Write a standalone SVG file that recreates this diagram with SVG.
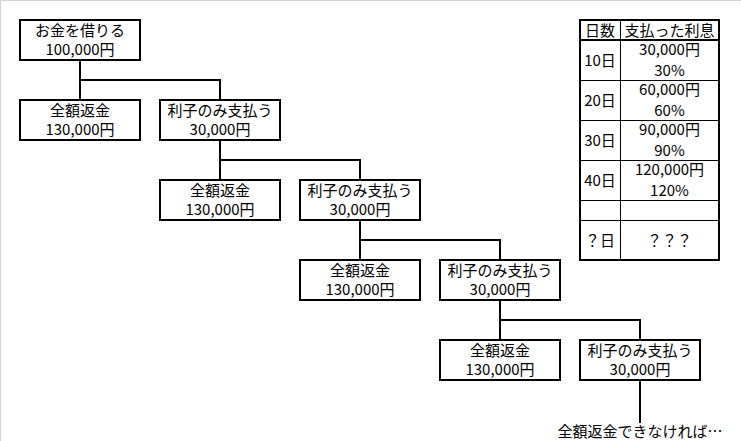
<svg xmlns="http://www.w3.org/2000/svg" width="741" height="441" viewBox="0 0 741 441">
<style>
text{font-family:"Noto Sans CJK JP","Noto Sans",sans-serif;font-size:15px;fill:#000;text-anchor:middle}
.box{fill:#fff;stroke:#000;stroke-width:2}
.conn{fill:none;stroke:#000;stroke-width:2}
.tbl{fill:none;stroke:#000;stroke-width:2}
.tl{stroke:#000;stroke-width:1}
</style>
<rect x="0" y="0" width="741" height="441" fill="#fff"/>
<path d="M0.5 441V0.5H741" fill="none" stroke="#d4d4d4" stroke-width="1"/>
<g id="connectors">
<path class="conn" d="M80 60V80M80 100V80H220V100"/>
<path class="conn" d="M220 140V160M220 180V160H360V180"/>
<path class="conn" d="M360 220V240M360 260V240H500V260"/>
<path class="conn" d="M500 300V320M500 340V320H640V340"/>
<path class="conn" d="M640 380V423"/>
</g>
<g id="root"><rect class="box" x="20" y="20" width="120" height="40"/><text x="80" y="36">お金を借りる</text><text x="80" y="55">100,000円</text></g>
<g id="repay1"><rect class="box" x="20" y="100" width="120" height="40"/><text x="80" y="116">全額返金</text><text x="80" y="135">130,000円</text></g>
<g id="interest1"><rect class="box" x="160" y="100" width="120" height="40"/><text x="220" y="116">利子のみ支払う</text><text x="220" y="135">30,000円</text></g>
<g id="repay2"><rect class="box" x="160" y="180" width="120" height="40"/><text x="220" y="196">全額返金</text><text x="220" y="215">130,000円</text></g>
<g id="interest2"><rect class="box" x="300" y="180" width="120" height="40"/><text x="360" y="196">利子のみ支払う</text><text x="360" y="215">30,000円</text></g>
<g id="repay3"><rect class="box" x="300" y="260" width="120" height="40"/><text x="360" y="276">全額返金</text><text x="360" y="295">130,000円</text></g>
<g id="interest3"><rect class="box" x="440" y="260" width="120" height="40"/><text x="500" y="276">利子のみ支払う</text><text x="500" y="295">30,000円</text></g>
<g id="repay4"><rect class="box" x="440" y="340" width="120" height="40"/><text x="500" y="356">全額返金</text><text x="500" y="375">130,000円</text></g>
<g id="interest4"><rect class="box" x="580" y="340" width="120" height="40"/><text x="640" y="356">利子のみ支払う</text><text x="640" y="375">30,000円</text></g>
<g id="note"><text x="640" y="437">全額返金できなければ…</text></g>
<g id="table">
<rect x="580" y="20" width="139" height="240" fill="#fff"/>
<path class="tl" d="M620.5 20V260M580 80.5H719M580 120.5H719M580 160.5H719M580 200.5H719M580 220.5H719"/>
<path class="tbl" d="M580 40H719"/>
<rect class="tbl" x="580" y="20" width="139" height="240"/>
<text x="600" y="36">日数</text><text x="669.5" y="36">支払った利息</text>
<text x="600" y="65.5">10日</text><text x="669.5" y="55">30,000円</text><text x="669.5" y="75.5">30%</text>
<text x="600" y="105.5">20日</text><text x="669.5" y="95">60,000円</text><text x="669.5" y="115.5">60%</text>
<text x="600" y="145.5">30日</text><text x="669.5" y="135">90,000円</text><text x="669.5" y="155.5">90%</text>
<text x="600" y="185.5">40日</text><text x="669.5" y="175">120,000円</text><text x="669.5" y="195.5">120%</text>
<text x="600" y="245.5">？日</text><text x="669.5" y="245.5">？？？</text>
</g>
</svg>
